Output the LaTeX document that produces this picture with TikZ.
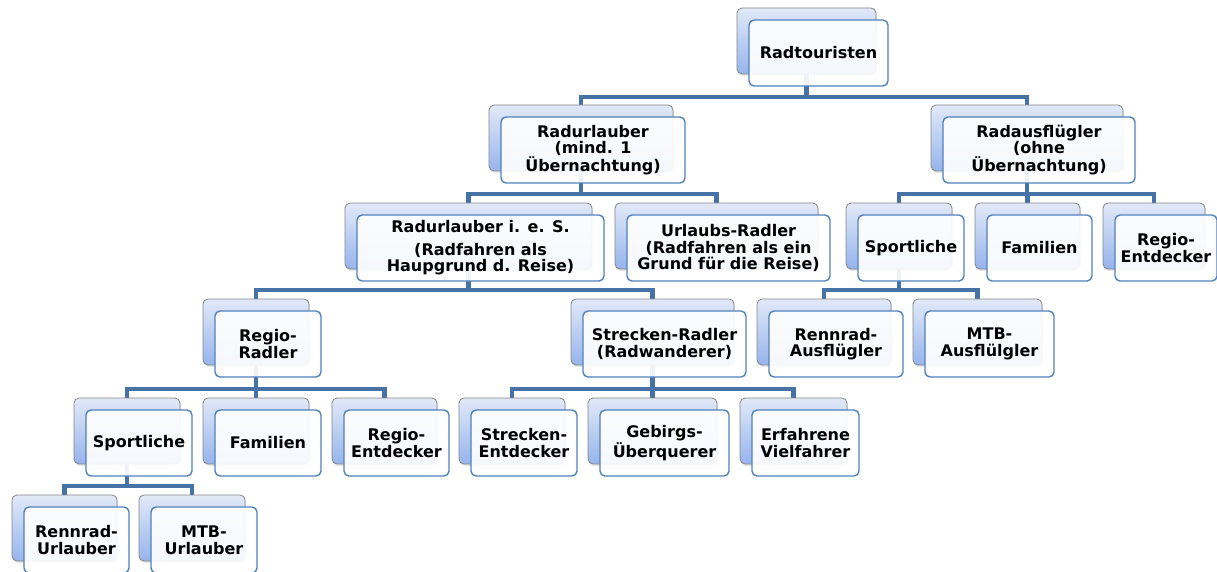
\documentclass[tikz,border=0pt]{standalone}
\usepackage{fontspec}
\setmainfont{DejaVu Sans}
\usetikzlibrary{shadows}
\definecolor{connblue}{HTML}{4672A6}
\definecolor{frameblue}{HTML}{4F81BD}
\definecolor{backtop}{HTML}{E1E9F8}
\definecolor{backbot}{HTML}{96B4EC}
\definecolor{backframe}{HTML}{858585}
\pgfdeclarelayer{lines}
\pgfsetlayers{lines,main}
\tikzset{
  backbox/.style={rectangle, rounded corners=5pt, draw=backframe, line width=0.8pt,
    top color=backtop, bottom color=backbot, minimum height=66pt, inner sep=0pt,
    drop shadow={shadow xshift=1pt, shadow yshift=-2pt, opacity=0.2}},
  frontbox/.style={rectangle, rounded corners=5pt, draw=frameblue, line width=1.4pt,
    fill=white, fill opacity=0.91, draw opacity=1, text opacity=1,
    minimum height=66pt, inner sep=2pt, align=center,
    font=\bfseries\fontsize{16}{16.6}\selectfont},
  conn/.style={draw=connblue, line width=4.5pt}
}
% name, left, right, top, text
\newcommand\orgunit[5]{%
  \node[backbox, minimum width={#3-#2}] (#1b) at ({(#2+#3)/2},{#4+33}) {};
  \node[frontbox, minimum width={#3-#2}] (#1) at ({(#2+#3)/2+12},{#4+45}) {#5};
}
% parent, bar coordinate, child
\newcommand\orglink[3]{%
  \draw[conn] (#1b.south) -- (#1b.south |- #2) -| (#3b.north);
}
\begin{document}
\begin{tikzpicture}[x=1pt,y=-1pt]
\useasboundingbox (0,0) rectangle (1217,572);
\coordinate (barA) at (0,97);
\coordinate (barB) at (0,194);
\coordinate (barC) at (0,290);
\coordinate (barD) at (0,389);
\coordinate (barE) at (0,486);

\orgunit{rt}{737}{876}{8}{Radtouristen}
\orgunit{ru}{489}{673}{105}{Radurlauber\\(mind. 1\\Übernachtung)}
\orgunit{ra}{931}{1123}{105}{Radausflügler\\(ohne\\Übernachtung)}
\orgunit{ries}{345}{592}{203}{Radurlauber i. e. S.\\[6pt](Radfahren als\\Haupgrund d. Reise)}
\orgunit{ur}{615}{818}{203}{Urlaubs-Radler\\(Radfahren als ein\\Grund für die Reise)}
\orgunit{spr}{846}{952}{203}{Sportliche}
\orgunit{far}{975}{1080}{203}{Familien}
\orgunit{rer}{1103}{1205}{203}{Regio-\\Entdecker}
\orgunit{rr}{203}{309}{299}{Regio-\\Radler}
\orgunit{sr}{571}{734}{299}{Strecken-Radler\\(Radwanderer)}
\orgunit{rna}{757}{891}{299}{Rennrad-\\Ausflügler}
\orgunit{mtba}{913}{1042}{299}{MTB-\\Ausflülgler}
\orgunit{spl}{74}{180}{398}{Sportliche}
\orgunit{fal}{203}{309}{398}{Familien}
\orgunit{rel}{332}{437}{398}{Regio-\\Entdecker}
\orgunit{se}{459}{565}{398}{Strecken-\\Entdecker}
\orgunit{gu}{588}{717}{398}{Gebirgs-\\Überquerer}
\orgunit{ev}{740}{847}{398}{Erfahrene\\Vielfahrer}
\orgunit{rnu}{12}{117}{495}{Rennrad-\\Urlauber}
\orgunit{mtbu}{139}{245}{495}{MTB-\\Urlauber}

\begin{pgfonlayer}{lines}
\orglink{rt}{barA}{ru}
\orglink{rt}{barA}{ra}
\orglink{ru}{barB}{ries}
\orglink{ru}{barB}{ur}
\orglink{ra}{barB}{spr}
\orglink{ra}{barB}{far}
\orglink{ra}{barB}{rer}
\orglink{ries}{barC}{rr}
\orglink{ries}{barC}{sr}
\orglink{spr}{barC}{rna}
\orglink{spr}{barC}{mtba}
\orglink{rr}{barD}{spl}
\orglink{rr}{barD}{fal}
\orglink{rr}{barD}{rel}
\orglink{sr}{barD}{se}
\orglink{sr}{barD}{gu}
\orglink{sr}{barD}{ev}
\orglink{spl}{barE}{rnu}
\orglink{spl}{barE}{mtbu}
\end{pgfonlayer}
\end{tikzpicture}
\end{document}
